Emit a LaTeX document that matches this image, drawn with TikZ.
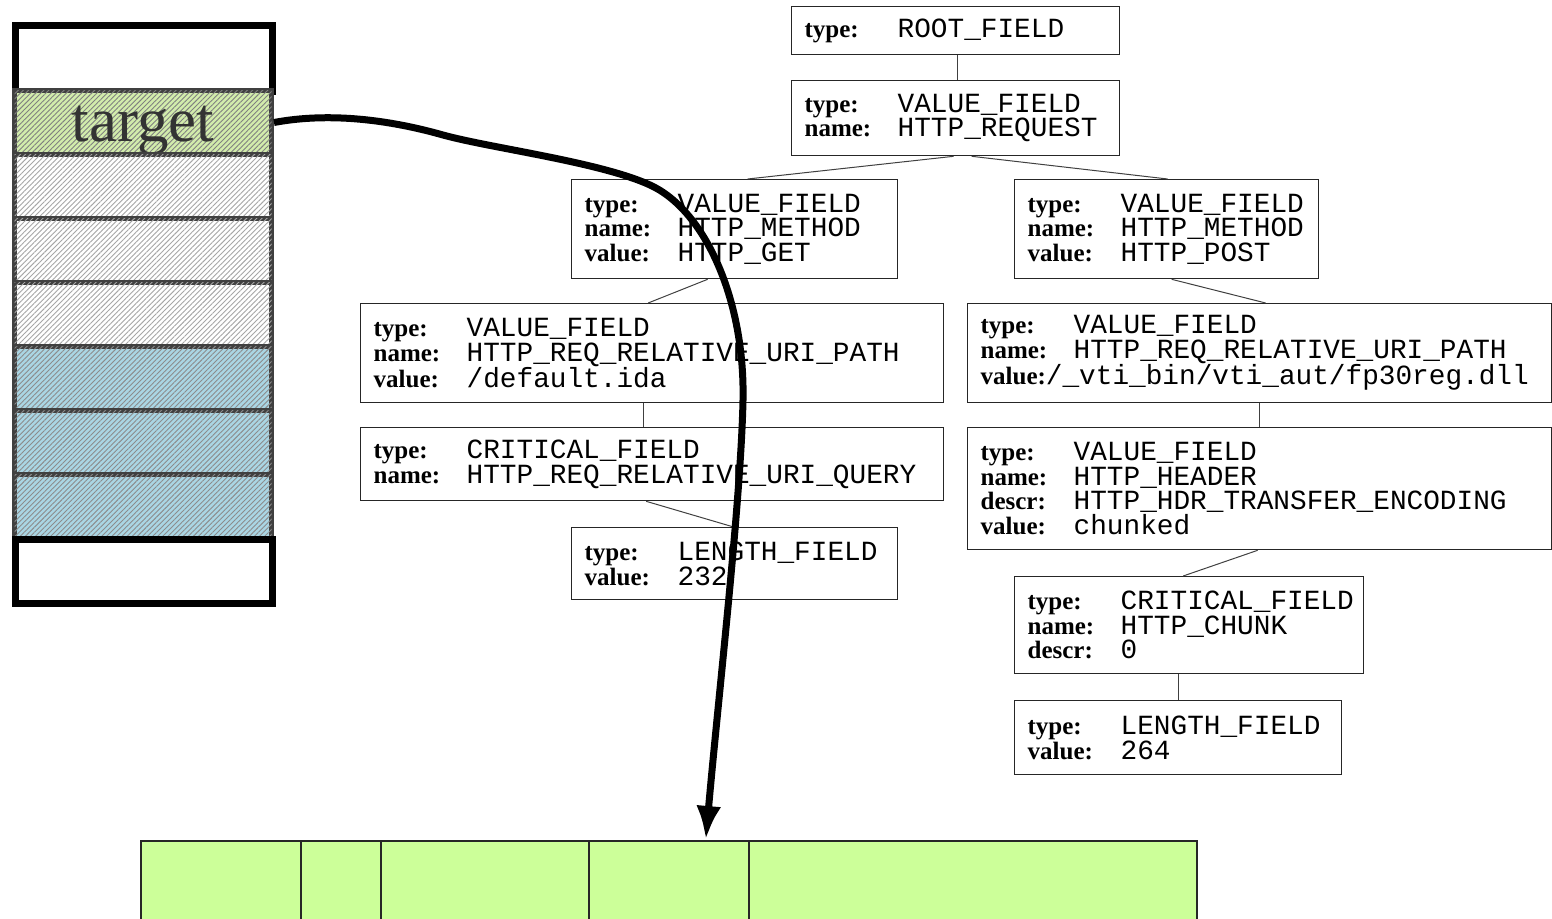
\documentclass[tikz,border=0pt]{standalone}
\usepackage{fontspec}
\setmainfont{Liberation Serif}
\setmonofont{Liberation Mono}[Scale=1.11]
\usetikzlibrary{arrows.meta, patterns.meta}

\definecolor{tgtgreen}{RGB}{210,236,172}
\definecolor{slotblue}{RGB}{170,214,228}
\definecolor{bargreen}{RGB}{204,255,153}

\newcommand{\fld}[2]{\makebox[93pt][l]{\bfseries #1}\texttt{#2}}

\begin{document}
\begin{tikzpicture}[x=1pt, y=-1pt,
    field/.style={draw=black!85, line width=1.3pt, anchor=north west, inner xsep=13pt, inner ysep=0pt, align=left, font=\fontsize{25}{24.5}\selectfont},
    slot/.style={draw=black!75, line width=5pt, anchor=north west, minimum width=257pt, minimum height=64pt, inner sep=0pt},
    emptyslot/.style={slot, draw=black, line width=6.5pt, fill=white},
    hatched/.style={postaction={pattern={Lines[angle=45, distance=3.6pt, line width=0.9pt]}, pattern color=#1}},
    edge/.style={black!75, line width=1pt},
    cell/.style={draw=black!85, line width=1.5pt, fill=bargreen, anchor=north west, minimum height=100pt, inner sep=0pt},
    link/.style={line width=7pt, -{Latex[length=34pt, width=25pt]}}
]
    \useasboundingbox (0,0) rectangle (1552,918);

    % Memory slots
    \node[emptyslot, minimum height=66pt] (top) at (12,22) {};
    \node[slot, fill=tgtgreen, hatched=black!50, font=\fontsize{63}{63}\selectfont, text=black!80] (target) at (12,88) {\raisebox{-19pt}[0pt][0pt]{target}};
    \foreach \i in {1,2,3}
        \node[slot, fill=white, hatched=black!35] (grey\i) at (12,88+64*\i) {};
    \foreach \i in {4,5,6}
        \node[slot, fill=slotblue, hatched=black!45] (blue\i) at (12,88+64*\i) {};
    \node[emptyslot] (bottom) at (12,536) {};

    % Field tree
    \node[field, text width=302pt, minimum height=48pt] (root) at (791,6) {\fld{type:}{ROOT\_FIELD}};
    \node[field, text width=302pt, minimum height=75pt] (req) at (791,80) {\fld{type:}{VALUE\_FIELD}\\ \fld{name:}{HTTP\_REQUEST}};
    \node[field, text width=300pt, minimum height=99pt] (get) at (571,179) {\fld{type:}{VALUE\_FIELD}\\ \fld{name:}{HTTP\_METHOD}\\ \fld{value:}{HTTP\_GET}};
    \node[field, text width=278pt, minimum height=99pt] (post) at (1014,179) {\fld{type:}{VALUE\_FIELD}\\ \fld{name:}{HTTP\_METHOD}\\ \fld{value:}{HTTP\_POST}};
    \node[field, text width=557pt, minimum height=99pt] (path1) at (360,303) {\fld{type:}{VALUE\_FIELD}\\ \fld{name:}{HTTP\_REQ\_RELATIVE\_URI\_PATH}\\ \fld{value:}{/default.ida}};
    \node[field, text width=558pt, minimum height=99pt] (path2) at (967,303) {\fld{type:}{VALUE\_FIELD}\\ \fld{name:}{HTTP\_REQ\_RELATIVE\_URI\_PATH}\\ {\bfseries value:}\texttt{/\_vti\_bin/vti\_aut/fp30reg.dll}};
    \node[field, text width=557pt, minimum height=73pt] (query) at (360,427) {\fld{type:}{CRITICAL\_FIELD}\\ \fld{name:}{HTTP\_REQ\_RELATIVE\_URI\_QUERY}};
    \node[field, text width=300pt, minimum height=72pt] (len1) at (571,527) {\fld{type:}{LENGTH\_FIELD}\\ \fld{value:}{232}};
    \node[field, text width=558pt, minimum height=122pt] (hdr) at (967,427) {\fld{type:}{VALUE\_FIELD}\\ \fld{name:}{HTTP\_HEADER}\\ \fld{descr:}{HTTP\_HDR\_TRANSFER\_ENCODING}\\ \fld{value:}{chunked}};
    \node[field, text width=323pt, minimum height=97pt] (chunk) at (1014,576) {\fld{type:}{CRITICAL\_FIELD}\\ \fld{name:}{HTTP\_CHUNK}\\ \fld{descr:}{0}};
    \node[field, text width=301pt, minimum height=74pt] (len2) at (1014,700) {\fld{type:}{LENGTH\_FIELD}\\ \fld{value:}{264}};

    % Tree edges
    \draw[edge] ([xshift=2pt]root.south) -- ([xshift=2pt]req.north);
    \draw[edge] ([xshift=-2pt]req.south) -- ([xshift=13pt]get.north);
    \draw[edge] ([xshift=16pt]req.south) -- ([xshift=1pt]post.north);
    \draw[edge] ([xshift=-27pt]get.south) -- ([xshift=-4pt]path1.north);
    \draw[edge] ([xshift=5pt]post.south) -- ([xshift=6pt]path2.north);
    \draw[edge] ([xshift=-9pt]path1.south) -- ([xshift=-9pt]query.north);
    \draw[edge] ([xshift=-6pt]query.south) -- ([xshift=-1pt]len1.north);
    \draw[edge] (path2.south) -- (hdr.north);
    \draw[edge] ([xshift=-2pt]hdr.south) -- ([xshift=-6pt]chunk.north);
    \draw[edge] ([xshift=-11pt]chunk.south) -- (len2.north);

    % Packet buffer
    \node[cell, minimum width=160pt] (cell1) at (140,840) {};
    \node[cell, minimum width=80pt] (cell2) at (300,840) {};
    \node[cell, minimum width=208pt] (cell3) at (380,840) {};
    \node[cell, minimum width=160pt] (cell4) at (588,840) {};
    \node[cell, minimum width=448pt] (cell5) at (748,840) {};

    % Pointer
    \draw[link] (target.east) .. controls (330,112) and (390,120) .. (443,135)
        .. controls (490,148) and (600,162) .. (650,185)
        .. controls (705,210) and (745,300) .. (743,400)
        .. controls (741,500) and (718,700) .. ([xshift=37pt]cell4.north);
\end{tikzpicture}
\end{document}
